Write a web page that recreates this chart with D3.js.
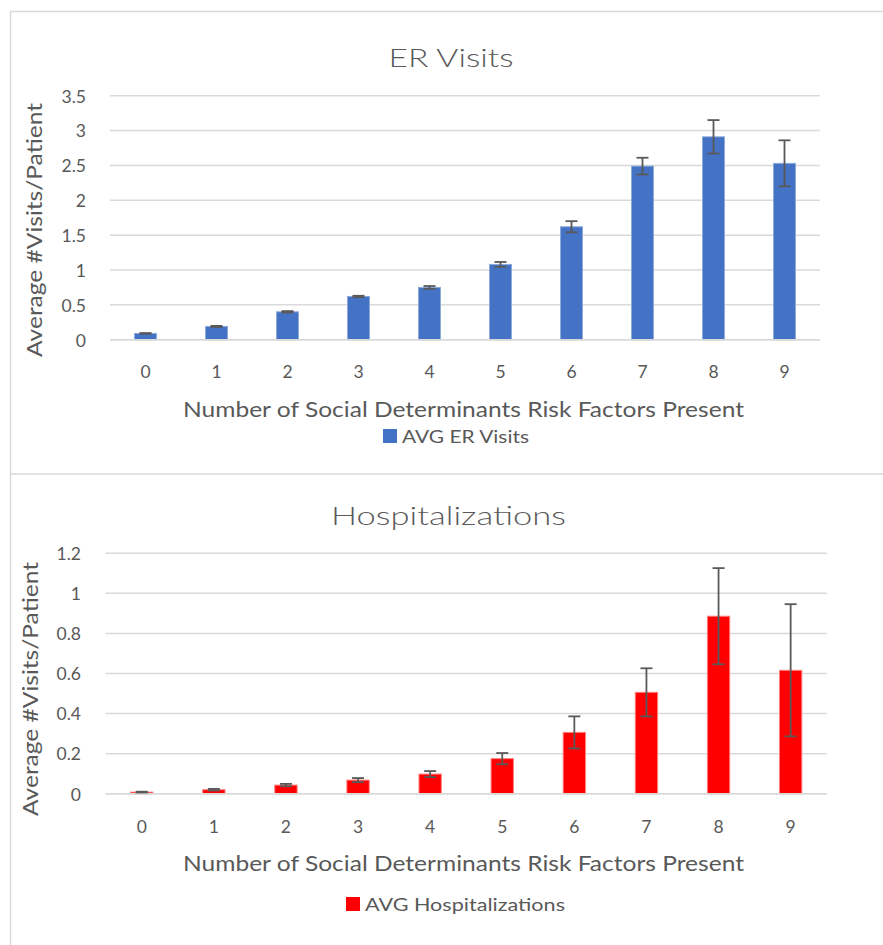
<!DOCTYPE html>
<html>
<head>
<meta charset="utf-8">
<script src="https://cdn.jsdelivr.net/npm/d3@7"></script>
<style>
  html, body { margin: 0; padding: 0; background: #ffffff; }
  svg { display: block; }
  text { font-family: "Lato", "Open Sans", "Liberation Sans", sans-serif; fill: #595959; }
</style>
</head>
<body>
<svg id="chart" width="883" height="945"></svg>
<script>
// ---------- data ----------
const categories = ["0", "1", "2", "3", "4", "5", "6", "7", "8", "9"];
const erValues   = [0.09, 0.19, 0.40, 0.62, 0.75, 1.08, 1.62, 2.49, 2.91, 2.53];
const erErrors   = [0.005, 0.008, 0.01, 0.01, 0.02, 0.035, 0.08, 0.12, 0.24, 0.33];
const hospValues = [0.008, 0.02, 0.043, 0.068, 0.098, 0.175, 0.306, 0.506, 0.886, 0.616];
const hospErrors = [0.002, 0.004, 0.006, 0.01, 0.015, 0.028, 0.08, 0.12, 0.24, 0.33];
const erTicks    = [0, 0.5, 1, 1.5, 2, 2.5, 3, 3.5];
const hospTicks  = [0, 0.2, 0.4, 0.6, 0.8, 1, 1.2];
const xTitle     = "Number of Social Determinants Risk Factors Present";
const yTitle     = "Average #Visits/Patient";

const svg = d3.select("#chart");

// outer frames
const frame = svg.append("g");
frame.append("path")
  .attr("d", "M 10.5 945 L 10.5 11.5 L 883 11.5")
  .attr("fill", "none").attr("stroke", "#d9d9d9").attr("stroke-width", 1.5);
frame.append("line")
  .attr("x1", 10.5).attr("x2", 883).attr("y1", 474).attr("y2", 474)
  .attr("stroke", "#d9d9d9").attr("stroke-width", 1.5);

function drawChart(cfg) {
  const g = svg.append("g");
  const x = d3.scaleBand().domain(categories).range([cfg.left, cfg.right]).paddingInner(0.69).paddingOuter(0.345);
  const y = d3.scaleLinear().domain([0, cfg.max]).range([cfg.bottom, cfg.top]);

  // gridlines
  g.selectAll("line.grid").data(cfg.ticks).enter().append("line")
    .attr("x1", cfg.left).attr("x2", cfg.right)
    .attr("y1", d => y(d)).attr("y2", d => y(d))
    .attr("stroke", "#d9d9d9").attr("stroke-width", 1.5);

  // y tick labels
  const yAxis = d3.axisLeft(y).tickValues(cfg.ticks).tickSize(0).tickPadding(0)
    .tickFormat(d => String(+d.toFixed(2)));
  const ya = g.append("g").attr("transform", `translate(${cfg.yLabelRight},0)`).call(yAxis);
  ya.select(".domain").remove();
  ya.selectAll("text").attr("font-size", 17.5).style("fill", "#595959")
    .style("font-family", "Lato, 'Open Sans', sans-serif").attr("dy", "0.36em");

  // x tick labels
  const xAxis = d3.axisBottom(x).tickSize(0).tickPadding(0);
  const xa = g.append("g").attr("transform", `translate(0,${cfg.xLabelBase})`).call(xAxis);
  xa.select(".domain").remove();
  xa.selectAll("text").attr("font-size", 17.5).attr("dy", 0).style("fill", "#595959")
    .style("font-family", "Lato, 'Open Sans', sans-serif");

  // bars
  g.selectAll("rect.bar").data(cfg.values).enter().append("rect")
    .attr("x", (d, i) => x(categories[i]))
    .attr("width", x.bandwidth())
    .attr("y", d => y(d))
    .attr("height", d => y(0) - y(d))
    .attr("fill", cfg.color)
    .attr("stroke", cfg.edge).attr("stroke-width", 1);

  // baseline
  g.append("line").attr("x1", cfg.left).attr("x2", cfg.right)
    .attr("y1", y(0)).attr("y2", y(0))
    .attr("stroke", "#d9d9d9").attr("stroke-width", 1.5);

  // error bars
  const eb = g.selectAll("g.err").data(cfg.values).enter().append("g");
  const cx = (i) => x(categories[i]) + x.bandwidth() / 2;
  eb.append("line")
    .attr("x1", (d, i) => cx(i)).attr("x2", (d, i) => cx(i))
    .attr("y1", (d, i) => y(d + cfg.errors[i])).attr("y2", (d, i) => y(d - cfg.errors[i]))
    .attr("stroke", "#595959").attr("stroke-width", 1.8);
  [1, -1].forEach(s => {
    eb.append("line")
      .attr("x1", (d, i) => cx(i) - 6).attr("x2", (d, i) => cx(i) + 6)
      .attr("y1", (d, i) => y(d + s * cfg.errors[i])).attr("y2", (d, i) => y(d + s * cfg.errors[i]))
      .attr("stroke", "#595959").attr("stroke-width", 1.8);
  });

  // title
  g.append("text").attr("x", cfg.titleX).attr("y", cfg.titleBase)
    .attr("text-anchor", "middle").attr("font-size", 26).attr("font-weight", 300)
    .attr("textLength", cfg.titleLen).attr("lengthAdjust", "spacingAndGlyphs")
    .text(cfg.title);

  // x axis title
  g.append("text").attr("x", 463.5).attr("y", cfg.xTitleBase)
    .attr("text-anchor", "middle").attr("font-size", 21.5)
    .attr("textLength", 561).attr("lengthAdjust", "spacingAndGlyphs")
    .text(xTitle);

  // y axis title
  g.append("text")
    .attr("transform", `translate(${cfg.yTitleX},${cfg.yTitleCenter}) rotate(-90)`)
    .attr("text-anchor", "middle").attr("font-size", 21)
    .attr("textLength", 254).attr("lengthAdjust", "spacingAndGlyphs")
    .text(yTitle);

  // legend
  g.append("rect").attr("x", cfg.legX).attr("y", cfg.legBase - 14)
    .attr("width", 14).attr("height", 14).attr("fill", cfg.color);
  g.append("text").attr("x", cfg.legX + 19).attr("y", cfg.legBase)
    .attr("font-size", 17.5)
    .attr("textLength", cfg.legLen).attr("lengthAdjust", "spacingAndGlyphs")
    .text(cfg.legend);
}

drawChart({
  values: erValues, errors: erErrors, ticks: erTicks, max: 3.5,
  left: 110, right: 820, top: 95.7, bottom: 339.7,
  color: "#4472C4", edge: "#8eaadb",
  yLabelRight: 86, xLabelBase: 377.5,
  title: "ER Visits", titleX: 451, titleBase: 67, titleLen: 125,
  xTitleBase: 417, yTitleX: 41.5, yTitleCenter: 230,
  legend: "AVG ER Visits", legX: 383, legBase: 443, legLen: 127
});

drawChart({
  values: hospValues, errors: hospErrors, ticks: hospTicks, max: 1.2,
  left: 105.7, right: 826.7, top: 553.3, bottom: 793.7,
  color: "#FF0000", edge: "#ff8080",
  yLabelRight: 81, xLabelBase: 833,
  title: "Hospitalizations", titleX: 448.5, titleBase: 525, titleLen: 235,
  xTitleBase: 871, yTitleX: 38, yTitleCenter: 689,
  legend: "AVG Hospitalizations", legX: 346, legBase: 911, legLen: 200
});
</script>
</body>
</html>
